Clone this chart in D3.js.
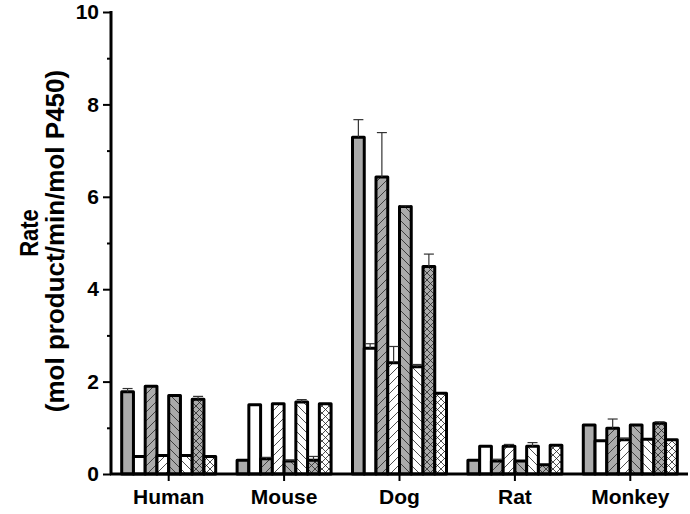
<!DOCTYPE html>
<html>
<head>
<meta charset="utf-8">
<script src="https://cdn.jsdelivr.net/npm/d3@7"></script>
<style>
  body { margin: 0; background: #fff; }
  text { font-family: Arial, "Liberation Sans", sans-serif; font-weight: bold; }
</style>
</head>
<body>
<svg width="690" height="514"></svg>
<script>
// categories and per-series values
const species = ["Human", "Mouse", "Dog", "Rat", "Monkey"];
const seriesNames = ["s1", "s2", "s3", "s4", "s5", "s6", "s7", "s8"];
const s1 = [1.78, 0.30, 7.29, 0.30, 1.06];
const s2 = [0.38, 1.50, 2.72, 0.60, 0.72];
const s3 = [1.90, 0.33, 6.43, 0.28, 0.99];
const s4 = [0.40, 1.52, 2.41, 0.60, 0.74];
const s5 = [1.70, 0.28, 5.79, 0.28, 1.06];
const s6 = [0.40, 1.56, 2.32, 0.60, 0.75];
const s7 = [1.62, 0.30, 4.49, 0.20, 1.10];
const s8 = [0.38, 1.52, 1.75, 0.62, 0.74];
// upper error bars
const e1 = [0.07, 0, 0.38, 0, 0];
const e2 = [0, 0, 0.10, 0, 0];
const e3 = [0, 0.03, 0.96, 0.04, 0.20];
const e4 = [0, 0, 0.35, 0.04, 0.04];
const e5 = [0, 0.02, 0.02, 0, 0];
const e6 = [0, 0.05, 0.05, 0.08, 0];
const e7 = [0.06, 0.08, 0.27, 0, 0.03];
const e8 = [0, 0, 0, 0, 0];
const yTicks = [0, 2, 4, 6, 8, 10];
const yMinor = [1, 3, 5, 7, 9];

const values = [s1, s2, s3, s4, s5, s6, s7, s8];
const errors = [e1, e2, e3, e4, e5, e6, e7, e8];
// fill style per series: base colour + hatch
const fills = ["gray", "white", "gray-fw", "white-fw", "gray-bk", "white-bk", "gray-x", "white-x"];

const svg = d3.select("svg");
const x0 = 111, x1r = 688, yBase = 474, yTop = 12;
const fontFam = "Arial, 'Liberation Sans', sans-serif";

const x = d3.scaleBand().domain(species).range([x0, x1r]);
const xs = d3.scaleBand().domain(seriesNames).range([0, 94]);
const y = d3.scaleLinear().domain([0, 10]).range([yBase, yTop]);

// patterns
const defs = svg.append("defs");
function hatch(id, bg, kind, size) {
  const p = defs.append("pattern")
    .attr("id", id)
    .attr("patternUnits", "userSpaceOnUse")
    .attr("width", size).attr("height", size);
  p.append("rect").attr("width", size).attr("height", size).attr("fill", bg);
  if (kind === "fw" || kind === "x")
    p.append("path").attr("d", `M0,${size} L${size},0 M${-size/2},${size/2} L${size/2},${-size/2} M${size/2},${size*1.5} L${size*1.5},${size/2}`)
      .attr("stroke", "#222").attr("stroke-width", 0.8);
  if (kind === "bk" || kind === "x")
    p.append("path").attr("d", `M0,0 L${size},${size} M${-size/2},${size/2} L${size/2},${size*1.5} M${size/2},${-size/2} L${size*1.5},${size/2}`)
      .attr("stroke", "#222").attr("stroke-width", 0.8);
}
const grayFill = "#ababab";
hatch("gray-fw", grayFill, "fw", 9);
hatch("white-fw", "#fff", "fw", 9);
hatch("gray-bk", grayFill, "bk", 9);
hatch("white-bk", "#fff", "bk", 9);
hatch("gray-x", grayFill, "x", 7);
hatch("white-x", "#fff", "x", 7);

function fillOf(f) {
  if (f === "gray") return grayFill;
  if (f === "white") return "#fff";
  return "url(#" + f + ")";
}

const rows = [];
species.forEach((sp, i) => {
  seriesNames.forEach((s, j) => {
    rows.push({ sp: sp, s: s, v: values[j][i], e: errors[j][i], f: fills[j] });
  });
});

const groups = svg.append("g");
groups.selectAll("rect")
  .data(rows)
  .enter()
  .append("rect")
    .attr("x", d => x(d.sp) + (x.bandwidth() - 94) / 2 + xs(d.s))
    .attr("y", d => y(d.v))
    .attr("width", xs.bandwidth())
    .attr("height", d => yBase - y(d.v))
    .attr("fill", d => fillOf(d.f))
    .attr("stroke", "#000")
    .attr("stroke-width", 3)
    .attr("stroke-linejoin", "round");

// error bars (upper only)
const eb = svg.append("g").attr("stroke", "#333").attr("stroke-width", 1.2);
rows.filter(d => d.e > 0).forEach(d => {
  const cx = x(d.sp) + (x.bandwidth() - 94) / 2 + xs(d.s) + xs.bandwidth() / 2;
  eb.append("line").attr("x1", cx).attr("x2", cx).attr("y1", y(d.v)).attr("y2", y(d.v + d.e));
  eb.append("line").attr("x1", cx - 5).attr("x2", cx + 5).attr("y1", y(d.v + d.e)).attr("y2", y(d.v + d.e));
});

// y axis
const yAxis = svg.append("g").attr("transform", "translate(" + x0 + ",0)")
  .call(d3.axisLeft(y).tickValues(yTicks).tickSize(8).tickPadding(4).tickFormat(d3.format("d")));
yAxis.select(".domain").attr("stroke-width", 3).attr("d", `M0,${yTop - 1}V${yBase}`);
yAxis.selectAll(".tick line").attr("stroke-width", 2);
yAxis.selectAll(".tick text").attr("font-size", 21).attr("font-family", fontFam).attr("font-weight", "bold");
svg.append("g").attr("transform", "translate(" + x0 + ",0)")
  .call(d3.axisLeft(y).tickValues(yMinor).tickSize(4).tickFormat(""))
  .call(g => g.select(".domain").remove())
  .selectAll(".tick line").attr("stroke-width", 2);

// x axis
const xAxis = svg.append("g").attr("transform", "translate(0," + yBase + ")")
  .call(d3.axisBottom(x).tickSize(7).tickPadding(8));
xAxis.select(".domain").attr("stroke-width", 3).attr("d", `M${x0 - 1},0H${x1r}`);
xAxis.selectAll(".tick line").attr("stroke-width", 2);
xAxis.selectAll(".tick text").attr("font-size", 21).attr("font-family", fontFam).attr("font-weight", "bold");

// y axis title
svg.append("text")
  .attr("transform", "translate(38,233) rotate(-90) scale(1,1.15)")
  .attr("text-anchor", "middle")
  .attr("font-size", 22)
  .text("Rate");
svg.append("text")
  .attr("transform", "translate(64,241) rotate(-90)")
  .attr("text-anchor", "middle")
  .attr("font-size", 26)
  .text("(mol product/min/mol P450)");
</script>
</body>
</html>
